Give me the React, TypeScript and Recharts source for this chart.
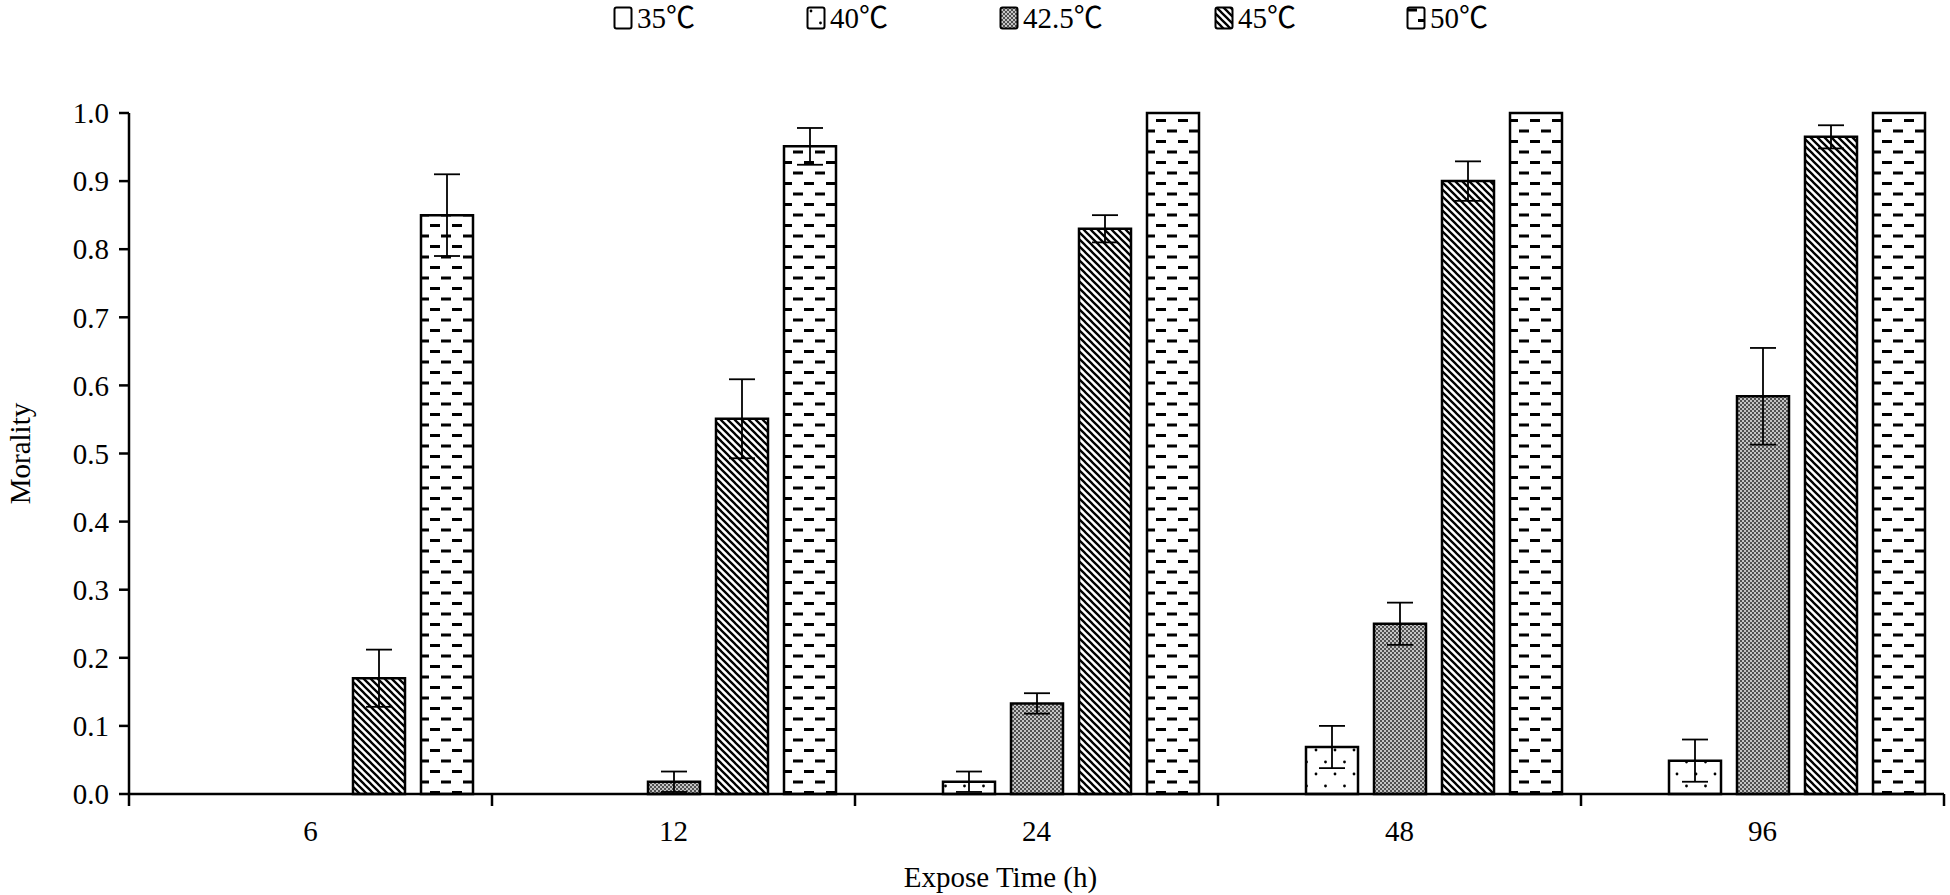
import React from "react"
import { BarChart, Bar, XAxis, YAxis, ErrorBar, Legend } from "recharts"

const times = ["6", "12", "24", "48", "96"]

// mean mortality per temperature
const m35 = [0, 0, 0, 0, 0]
const m40 = [0, 0, 0.018, 0.069, 0.049]
const m425 = [0, 0.018, 0.133, 0.25, 0.584]
const m45 = [0.17, 0.551, 0.83, 0.9, 0.965]
const m50 = [0.85, 0.951, 1.0, 1.0, 1.0]

// standard errors
const e35 = [null, null, null, null, null]
const e40 = [null, null, 0.015, 0.031, 0.031]
const e425 = [null, 0.015, 0.015, 0.031, 0.071]
const e45 = [0.042, 0.058, 0.02, 0.029, 0.017]
const e50 = [0.06, 0.027, null, null, null]

const yTicks = [0, 0.1, 0.2, 0.3, 0.4, 0.5, 0.6, 0.7, 0.8, 0.9, 1.0]

const series = [
  { key: "m35", err: "e35", name: "35℃", fill: "url(#p35)" },
  { key: "m40", err: "e40", name: "40℃", fill: "url(#p40)" },
  { key: "m425", err: "e425", name: "42.5℃", fill: "url(#p425)" },
  { key: "m45", err: "e45", name: "45℃", fill: "url(#p45)" },
  { key: "m50", err: "e50", name: "50℃", fill: "url(#p50)" },
]

const data = times.map((t, i) => ({
  time: t,
  m35: m35[i], e35: e35[i],
  m40: m40[i], e40: e40[i],
  m425: m425[i], e425: e425[i],
  m45: m45[i], e45: e45[i],
  m50: m50[i], e50: e50[i],
}))

const font = "'Liberation Serif', 'Times New Roman', 'Noto Sans CJK SC', serif"
const fs = 29
const tickGap = 26
const legendX = [613, 806, 999, 1214, 1406]

// category label plus divider ticks at the band edges
function CatTick(props: any) {
  const { x, y, payload, width, visibleTicksCount, index } = props
  const band = width && visibleTicksCount ? width / visibleTicksCount : 0
  const axisY = y - tickGap
  return (
    <g>
      {band > 0 && (
        <line x1={x - band / 2} x2={x - band / 2} y1={axisY} y2={axisY + 12} stroke="#000" strokeWidth={2.5} />
      )}
      {band > 0 && index === visibleTicksCount - 1 && (
        <line x1={x + band / 2} x2={x + band / 2} y1={axisY} y2={axisY + 12} stroke="#000" strokeWidth={2.5} />
      )}
      <text x={x} y={y} dy="0.71em" textAnchor="middle" fontSize={fs} fontFamily={font} fill="#000">
        {payload.value}
      </text>
    </g>
  )
}

function LegendBox() {
  return (
    <div style={{ position: "relative", width: 1950, height: 40, fontFamily: font, fontSize: fs, color: "#000" }}>
      {series.map((s, i) => (
        <div key={s.key} style={{ position: "absolute", left: legendX[i], top: 3, display: "flex", alignItems: "center" }}>
          <svg width={21} height={26} style={{ marginRight: 3 }}>
            <rect x={1.5} y={2.5} width={17} height={21} rx={2} fill={s.fill} stroke="#000" strokeWidth={2} />
          </svg>
          <span style={{ lineHeight: "30px" }}>{s.name}</span>
        </div>
      ))}
    </div>
  )
}

export default function App() {
  return (
    <div style={{ position: "absolute", left: 0, top: 0, width: 1950, height: 895, background: "#fff" }}>
      <BarChart
        width={1950}
        height={895}
        data={data}
        margin={{ top: 113, right: 6, left: 0, bottom: 0 }}
        barSize={52}
        barGap={16}
        style={{ fontFamily: font }}
      >
        <defs>
          <pattern id="p35" width="10" height="10" patternUnits="userSpaceOnUse">
            <rect width="10" height="10" fill="#fff" />
          </pattern>
          <pattern id="p40" width="19" height="24" patternUnits="userSpaceOnUse">
            <rect width="19" height="24" fill="#fff" />
            <circle cx="5" cy="6" r="1.4" fill="#000" />
            <circle cx="14.5" cy="18" r="1.4" fill="#000" />
          </pattern>
          <pattern id="p425" width="4" height="4" patternUnits="userSpaceOnUse">
            <rect width="4" height="4" fill="#c4c4c4" />
            <rect width="2" height="2" fill="#505050" />
            <rect x="2" y="2" width="2" height="2" fill="#505050" />
          </pattern>
          <pattern id="p45" width="7" height="7" patternUnits="userSpaceOnUse">
            <rect width="7" height="7" fill="#fff" />
            <path d="M-2,-2 L9,9 M-2,5 L2,9 M5,-2 L9,2" stroke="#000" strokeWidth="2.3" />
          </pattern>
          <pattern id="p50" width="22" height="21" patternUnits="userSpaceOnUse">
            <rect width="22" height="21" fill="#fff" />
            <rect x="1" y="3.5" width="10" height="3" fill="#000" />
            <rect x="12" y="14" width="10" height="3" fill="#000" />
          </pattern>
        </defs>
        <XAxis
          dataKey="time"
          height={101}
          axisLine={{ stroke: "#000", strokeWidth: 2.5 }}
          tickLine={false}
          tickSize={0}
          tickMargin={tickGap}
          tick={<CatTick />}
          label={{ value: "Expose Time (h)", position: "insideBottom", offset: 8, dx: -36, fill: "#000", fontSize: fs, fontFamily: font }}
        />
        <YAxis
          domain={[0, 1]}
          ticks={yTicks}
          width={129}
          tickSize={10}
          tickMargin={10}
          tickFormatter={(v) => Number(v).toFixed(1)}
          axisLine={{ stroke: "#000", strokeWidth: 2.5 }}
          tickLine={{ stroke: "#000", strokeWidth: 2.5 }}
          tick={{ fill: "#000", fontSize: fs, fontFamily: font }}
          label={{ value: "Morality", angle: -90, position: "insideLeft", offset: 20, fill: "#000", fontSize: fs, fontFamily: font, style: { textAnchor: "middle" } }}
        />
        <Legend layout="horizontal" verticalAlign="middle" align="center" wrapperStyle={{ top: 0, left: 0, width: 1950, height: 40 }} content={() => <LegendBox />} />
        {series.map((s) => (
          <Bar key={s.key} dataKey={s.key} name={s.name} fill={s.fill} stroke="#000" strokeWidth={2.5} isAnimationActive={false}>
            <ErrorBar dataKey={s.err} direction="y" width={13} stroke="#000" strokeWidth={1.8} />
          </Bar>
        ))}
      </BarChart>
    </div>
  )
}
